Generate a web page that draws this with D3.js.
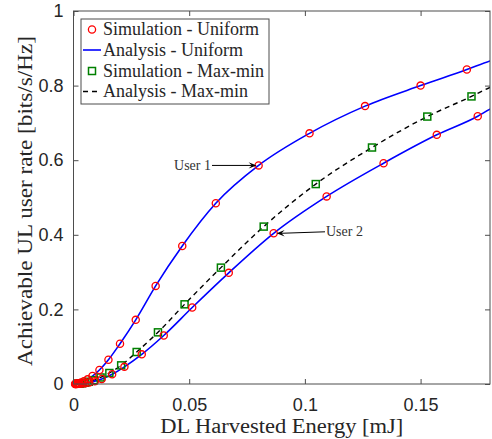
<!DOCTYPE html>
<html>
<head>
<meta charset="utf-8">
<script src="https://cdn.jsdelivr.net/npm/d3@7"></script>
<style>
  html, body { margin: 0; padding: 0; background: #fff; }
  svg { display: block; }
</style>
</head>
<body>
<svg id="chart" width="492" height="439"></svg>
<script>
// Simulated rate, uniform power allocation, user 1 (upper curve)
const user1X = [0.0007, 0.0010, 0.0013, 0.0018, 0.0024, 0.0033, 0.0045, 0.0061, 0.0082, 0.0112, 0.0151, 0.0201, 0.0269, 0.0355, 0.047, 0.0615, 0.080, 0.102, 0.126, 0.150, 0.170];
const user1Y = [0.0003, 0.0005, 0.0008, 0.0014, 0.0023, 0.0041, 0.0072, 0.0125, 0.0214, 0.0375, 0.065, 0.108, 0.172, 0.263, 0.370, 0.4845, 0.586, 0.672, 0.745, 0.800, 0.843];

// Simulated rate, uniform power allocation, user 2 (lower curve)
const user2X = [0.0008, 0.0011, 0.0015, 0.0020, 0.0027, 0.0037, 0.0050, 0.0068, 0.0092, 0.0122, 0.0167, 0.022, 0.0295, 0.039, 0.0513, 0.0671, 0.0865, 0.1094, 0.134, 0.157, 0.1747];
const user2Y = [0.0001, 0.0002, 0.0003, 0.0004, 0.0007, 0.0013, 0.0023, 0.0042, 0.0077, 0.0134, 0.026, 0.046, 0.0795, 0.130, 0.205, 0.298, 0.404, 0.503, 0.592, 0.668, 0.718];

// Simulated rate, max-min allocation (both users equal)
const maxminX = [0.0021, 0.0028, 0.0037, 0.0050, 0.0066, 0.0088, 0.0117, 0.0155, 0.0206, 0.0273, 0.0365, 0.048, 0.0637, 0.0822, 0.1047, 0.129, 0.1529, 0.172];
const maxminY = [0.0007, 0.0012, 0.0020, 0.0035, 0.0060, 0.0103, 0.0175, 0.0295, 0.050, 0.0858, 0.1385, 0.2136, 0.312, 0.422, 0.536, 0.634, 0.717, 0.771];

// Analytical curves: same sweep, continued past the right edge of the axes
const anaUser1X = [0, ...user1X, 0.18, 0.185];
const anaUser1Y = [0, ...user1Y, 0.866, 0.876];
const anaUser2X = [0, ...user2X, 0.18, 0.185];
const anaUser2Y = [0, ...user2Y, 0.737, 0.751];
const anaMaxminX = [0, 0.0008, 0.0011, 0.0015, ...maxminX, 0.18, 0.185];
const anaMaxminY = [0, 0.0001, 0.0002, 0.0004, ...maxminY, 0.795, 0.808];

const xTicks = [0, 0.05, 0.1, 0.15];
const xTickLabels = ["0", "0.05", "0.1", "0.15"];
const yTicks = [0, 0.2, 0.4, 0.6, 0.8, 1];
const yTickLabels = ["0", "0.2", "0.4", "0.6", "0.8", "1"];

const legendLabels = ["Simulation - Uniform", "Analysis - Uniform", "Simulation - Max-min", "Analysis - Max-min"];
const xTitle = "DL Harvested Energy [mJ]";
const yTitle = "Achievable UL user rate [bits/s/Hz]";

// annotations: [label, target x, target y]
const notes = [["User 1", 0.080, 0.586], ["User 2", 0.0865, 0.404]];

const svg = d3.select("#chart");
const m = { left: 73.5, right: 490, top: 11, bottom: 384 };

const x = d3.scaleLinear().domain([0, 0.18]).range([m.left, m.right]);
const y = d3.scaleLinear().domain([0, 1]).range([m.bottom, m.top]);

const axisColor = "#4d4d4d";
const serif = "'Liberation Serif', 'DejaVu Serif', serif";
const sans = "'Liberation Sans', Arial, sans-serif";

svg.append("defs").append("clipPath").attr("id", "plotclip")
  .append("rect").attr("x", m.left).attr("y", m.top)
  .attr("width", m.right - m.left).attr("height", m.bottom - m.top);

// axes with inward ticks, MATLAB-style box
const tickLen = 5;
const gx = svg.append("g").attr("transform", `translate(0,${m.bottom})`)
  .call(d3.axisBottom(x).tickValues(xTicks).tickSize(-tickLen).tickPadding(14)
    .tickFormat((d, i) => xTickLabels[i]));
const gxt = svg.append("g").attr("transform", `translate(0,${m.top})`)
  .call(d3.axisTop(x).tickValues(xTicks).tickSize(-tickLen).tickFormat(""));
const gy = svg.append("g").attr("transform", `translate(${m.left},0)`)
  .call(d3.axisLeft(y).tickValues(yTicks).tickSize(-tickLen).tickPadding(10)
    .tickFormat((d, i) => yTickLabels[i]));
const gyr = svg.append("g").attr("transform", `translate(${m.right},0)`)
  .call(d3.axisRight(y).tickValues(yTicks).tickSize(-tickLen).tickFormat(""));

[gx, gxt, gy, gyr].forEach(g => {
  g.selectAll(".domain").remove();
  g.selectAll(".tick line").attr("stroke", axisColor).attr("stroke-width", 1);
  g.selectAll("text").attr("fill", "#262626").style("font-family", sans).style("font-size", "18px");
});
gx.selectAll(".tick text").attr("dy", "0.71em");

// data layers
const plot = svg.append("g").attr("clip-path", "url(#plotclip)");
const toPts = (xs, ys) => xs.map((v, i) => [v, ys[i]]);
const line = d3.line().x(d => x(d[0])).y(d => y(d[1])).curve(d3.curveMonotoneX);

plot.append("path").datum(toPts(anaMaxminX, anaMaxminY))
  .attr("d", line).attr("fill", "none").attr("stroke", "#000")
  .attr("stroke-width", 1.4).attr("stroke-dasharray", "5,4");
plot.append("path").datum(toPts(anaUser1X, anaUser1Y))
  .attr("d", line).attr("fill", "none").attr("stroke", "#0000ff").attr("stroke-width", 1.6);
plot.append("path").datum(toPts(anaUser2X, anaUser2Y))
  .attr("d", line).attr("fill", "none").attr("stroke", "#0000ff").attr("stroke-width", 1.6);

const markers = svg.append("g");
const sq = 7;
markers.selectAll("rect.mm").data(toPts(maxminX, maxminY)).join("rect")
  .attr("class", "mm")
  .attr("x", d => x(d[0]) - sq / 2).attr("y", d => y(d[1]) - sq / 2)
  .attr("width", sq).attr("height", sq)
  .attr("fill", "none").attr("stroke", "#008000").attr("stroke-width", 1.5);
markers.selectAll("circle.u").data(toPts(user1X, user1Y).concat(toPts(user2X, user2Y))).join("circle")
  .attr("class", "u")
  .attr("cx", d => x(d[0])).attr("cy", d => y(d[1])).attr("r", 3.6)
  .attr("fill", "none").attr("stroke", "#ff0000").attr("stroke-width", 1.3);

// box
svg.append("rect").attr("x", m.left).attr("y", m.top)
  .attr("width", m.right - m.left).attr("height", m.bottom - m.top)
  .attr("fill", "none").attr("stroke", axisColor).attr("stroke-width", 1);

// annotations
const ann = svg.append("g");
const arrowHead = (px, py, dir) => {
  const L = 8, W = 3.2;
  return `M${px},${py} L${px - dir * L},${py - W} L${px - dir * L * 0.6},${py} L${px - dir * L},${py + W} Z`;
};
{
  const [label, tx, ty] = notes[0];
  const px = x(tx) - 2, py = y(ty);
  ann.append("line").attr("x1", 212).attr("y1", py).attr("x2", px - 4).attr("y2", py)
    .attr("stroke", "#000").attr("stroke-width", 1);
  ann.append("path").attr("d", arrowHead(px, py, 1)).attr("fill", "#000");
  ann.append("text").attr("x", 211).attr("y", py).attr("dy", "0.33em")
    .attr("text-anchor", "end").style("font-family", serif).style("font-size", "14px")
    .attr("fill", "#333").text(label);
}
{
  const [label, tx, ty] = notes[1];
  const px = x(tx) + 3, py = y(ty);
  ann.append("line").attr("x1", 325).attr("y1", py - 1.5).attr("x2", px + 4).attr("y2", py)
    .attr("stroke", "#000").attr("stroke-width", 1);
  ann.append("path").attr("d", arrowHead(px, py, -1)).attr("fill", "#000");
  ann.append("text").attr("x", 326).attr("y", py - 1.5).attr("dy", "0.33em")
    .attr("text-anchor", "start").style("font-family", serif).style("font-size", "14px")
    .attr("fill", "#333").text(label);
}

// legend
const lg = svg.append("g");
lg.append("rect").attr("x", 81).attr("y", 19).attr("width", 188).attr("height", 85)
  .attr("fill", "#fff").attr("stroke", axisColor).attr("stroke-width", 1);
const rowY = [29.5, 50, 71, 91.5];
const sx0 = 83, sx1 = 101, smid = 92;
legendLabels.forEach((t, i) => {
  const yy = rowY[i];
  if (i === 0) {
    lg.append("circle").attr("cx", smid).attr("cy", yy).attr("r", 3.6)
      .attr("fill", "none").attr("stroke", "#ff0000").attr("stroke-width", 1.3);
  } else if (i === 1) {
    lg.append("line").attr("x1", sx0).attr("x2", sx1).attr("y1", yy).attr("y2", yy)
      .attr("stroke", "#0000ff").attr("stroke-width", 1.6);
  } else if (i === 2) {
    lg.append("rect").attr("x", smid - sq / 2).attr("y", yy - sq / 2).attr("width", sq).attr("height", sq)
      .attr("fill", "none").attr("stroke", "#008000").attr("stroke-width", 1.5);
  } else {
    lg.append("line").attr("x1", sx0).attr("x2", sx1).attr("y1", yy).attr("y2", yy)
      .attr("stroke", "#000").attr("stroke-width", 1.4).attr("stroke-dasharray", "5,4");
  }
  lg.append("text").attr("x", 103).attr("y", yy).attr("dy", "0.33em")
    .style("font-family", serif).style("font-size", "18px").attr("fill", "#262626").text(t);
});

// axis titles
svg.append("text").attr("x", (m.left + m.right) / 2).attr("y", 433)
  .attr("text-anchor", "middle").style("font-family", serif).style("font-size", "20px")
  .attr("textLength", 243).attr("lengthAdjust", "spacingAndGlyphs")
  .attr("fill", "#262626").text(xTitle);
svg.append("text").attr("transform", `translate(32,201) rotate(-90)`)
  .attr("text-anchor", "middle").style("font-family", serif).style("font-size", "20px")
  .attr("textLength", 330).attr("lengthAdjust", "spacingAndGlyphs")
  .attr("fill", "#262626").text(yTitle);
</script>
</body>
</html>
